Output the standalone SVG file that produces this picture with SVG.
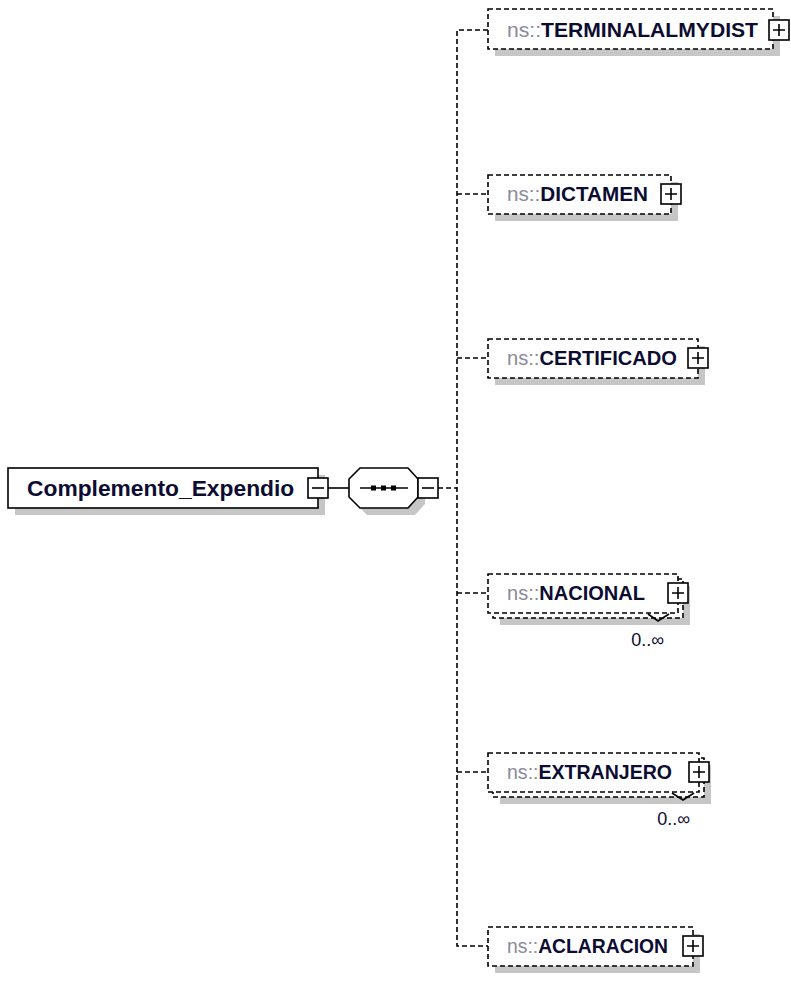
<svg xmlns="http://www.w3.org/2000/svg" width="791" height="981" viewBox="0 0 791 981">
<style>
.sh{fill:#c6c6c6}
.box{fill:#fff;stroke:#000;stroke-width:1.6}
.dbox{fill:#fff;stroke:#000;stroke-width:1.6;stroke-dasharray:5,3}
.ln{stroke:#000;stroke-width:1.6;fill:none}
.dl{stroke:#000;stroke-width:1.6;fill:none;stroke-dasharray:5,3}
.lbl{font-family:"Liberation Sans",Arial,sans-serif;font-size:21px;font-weight:bold;fill:#0c0c33}
.ns{font-weight:normal;fill:#8a8a9a}
.occ{font-family:"Liberation Sans",Arial,sans-serif;font-size:18px;fill:#0c0c33}
</style>
<defs>
<g id="plus"><rect x="-10" y="-10" width="20" height="20" class="box"/><path d="M-6 0H6M0 -6V6" class="ln"/></g>
<g id="minus"><rect x="-10" y="-10" width="20" height="20" class="box"/><path d="M-6 0H6" class="ln"/></g>
</defs>
<rect width="791" height="981" fill="#fff"/>
<g id="connectors">
<path class="ln" d="M328 488H349"/>
<path class="dl" d="M438 488H457"/>
<path class="dl" d="M488 30H457V946H488"/>
<path class="dl" d="M457 194H488M457 358H488M457 593H488M457 772H488"/>
</g>
<g id="node-main">
<rect class="sh" x="15" y="475" width="310" height="40"/>
<rect class="box" x="8" y="468" width="310" height="40"/>
<text class="lbl" x="27" y="496" style="font-size:22.8px">Complemento_Expendio</text>
<use href="#minus" x="318" y="488"/>
</g>
<g id="node-sequence">
<polygon class="sh" points="367,475 415,475 425,486 425,504 415,515 367,515 356,504 356,486"/>
<polygon class="box" points="360,468 408,468 418,479 418,497 408,508 360,508 349,497 349,479"/>
<path class="ln" d="M360 488H408"/>
<rect x="371" y="485.5" width="5" height="5" fill="#000"/>
<rect x="381" y="485.5" width="5" height="5" fill="#000"/>
<rect x="391" y="485.5" width="5" height="5" fill="#000"/>
<use href="#minus" x="428" y="488"/>
</g>
<g id="node-terminal">
<rect class="sh" x="495" y="16" width="285" height="40"/>
<rect class="dbox" x="488" y="9" width="285" height="40"/>
<text class="lbl" x="507" y="37" textLength="251" lengthAdjust="spacingAndGlyphs"><tspan class="ns">ns::</tspan>TERMINALALMYDIST</text>
<use href="#plus" x="779" y="30"/>
</g>
<g id="node-dictamen">
<rect class="sh" x="495" y="182" width="183" height="39"/>
<rect class="dbox" x="488" y="175" width="183" height="39"/>
<text class="lbl" x="507" y="201" textLength="141" lengthAdjust="spacingAndGlyphs"><tspan class="ns">ns::</tspan>DICTAMEN</text>
<use href="#plus" x="671" y="194"/>
</g>
<g id="node-certificado">
<rect class="sh" x="495" y="346" width="210" height="39"/>
<rect class="dbox" x="488" y="339" width="210" height="39"/>
<text class="lbl" x="507" y="365" textLength="170" lengthAdjust="spacingAndGlyphs"><tspan class="ns">ns::</tspan>CERTIFICADO</text>
<use href="#plus" x="698" y="358"/>
</g>
<g id="node-nacional">
<rect class="sh" x="500" y="586" width="190" height="39"/>
<rect class="dbox" x="493" y="579" width="190" height="39"/>
<rect class="dbox" x="488" y="574" width="190" height="39"/>
<text class="lbl" x="507" y="600" textLength="138" lengthAdjust="spacingAndGlyphs"><tspan class="ns">ns::</tspan>NACIONAL</text>
<use href="#plus" x="678" y="593"/>
<path class="ln" d="M648 614L658 621L669 614"/>
<text class="occ" x="664" y="646" text-anchor="end">0..∞</text>
</g>
<g id="node-extranjero">
<rect class="sh" x="500" y="765" width="211" height="39"/>
<rect class="dbox" x="493" y="758" width="211" height="39"/>
<rect class="dbox" x="488" y="753" width="211" height="39"/>
<text class="lbl" x="507" y="779" textLength="165" lengthAdjust="spacingAndGlyphs"><tspan class="ns">ns::</tspan>EXTRANJERO</text>
<use href="#plus" x="699" y="772"/>
<path class="ln" d="M672 793L683 800L694 793"/>
<text class="occ" x="690" y="825" text-anchor="end">0..∞</text>
</g>
<g id="node-aclaracion">
<rect class="sh" x="495" y="934" width="205" height="39"/>
<rect class="dbox" x="488" y="927" width="205" height="39"/>
<text class="lbl" x="507" y="953" textLength="161" lengthAdjust="spacingAndGlyphs"><tspan class="ns">ns::</tspan>ACLARACION</text>
<use href="#plus" x="693" y="946"/>
</g>
</svg>
